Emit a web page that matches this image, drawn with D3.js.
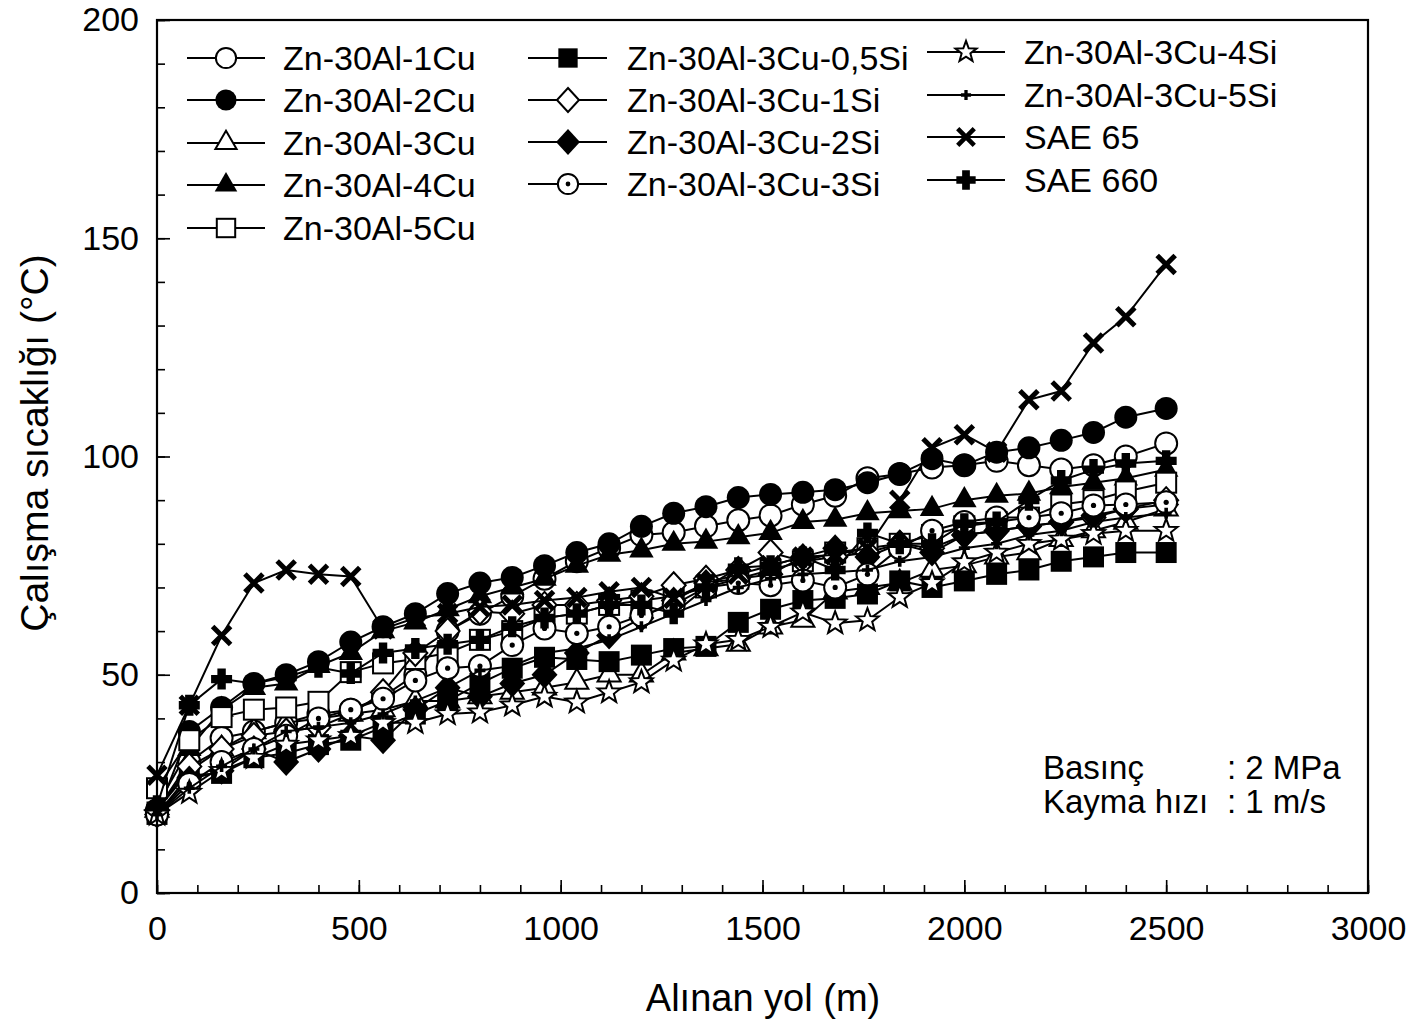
<!DOCTYPE html>
<html>
<head>
<meta charset="utf-8">
<script src="https://cdn.jsdelivr.net/npm/d3@7"></script>
<style>
  html, body { margin: 0; padding: 0; background: #fff; }
  svg { display: block; font-family: "Liberation Sans", Arial, sans-serif; }
</style>
</head>
<body>
<svg id="chart" width="1411" height="1024"></svg>
<script>
// ---------------- DATA ----------------
const distances = [0, 80, 160, 240, 320, 400, 480, 560, 640, 720, 800, 880, 960, 1040, 1120, 1200,
                   1280, 1360, 1440, 1520, 1600, 1680, 1760, 1840, 1920, 2000, 2080, 2160, 2240, 2320, 2400, 2500];

const seriesNames = ["Zn-30Al-1Cu", "Zn-30Al-2Cu", "Zn-30Al-3Cu", "Zn-30Al-4Cu", "Zn-30Al-5Cu",
                     "Zn-30Al-3Cu-0,5Si", "Zn-30Al-3Cu-1Si", "Zn-30Al-3Cu-2Si", "Zn-30Al-3Cu-3Si",
                     "Zn-30Al-3Cu-4Si", "Zn-30Al-3Cu-5Si", "SAE 65", "SAE 660"];

const zn1Cu  = [19,30,35.5,37,39,41,42,45,50,60,64,68,72,76,79,82,82.6,84,85.4,86.5,89,91,95,96,97.5,98,99,98,97,98,100,103];
const zn2Cu  = [18,37,42.5,48,50,53,57.5,61,64,68.6,71,72.3,75,78,80,84,87,88.5,90.6,91.3,91.8,92.4,94,96,99.5,98,101,102,103.7,105.5,109,111];
const zn3Cu  = [19,28,33,37,39,40,41,42,44,44,45,46,47,48.3,50,50,55,56,57,61,62.5,69,70,71,74,75,77,78,81,83,85,88];
const zn4Cu  = [20,33,42,47,48,52,55,60,62,65,68,70,72,75,77.5,78.5,80,80.5,81.5,82.5,85,85.5,87,87.5,88,90,91,91.5,93,94,95,97];
const zn5Cu  = [24,35,40.3,42,42.5,43.8,50.6,52.6,53.6,55,58,60,63,64,66,67,68,70,72,74,76,78,79,80,82,84,85,86,89,90,92,94];
const si05   = [18,27,27.4,31,32,34,35,38,41,44,48,51.5,54,53.5,53,54.5,56,56.5,62,65,67,67.5,68.5,71.5,70,71.5,73,74,76,77,78,78];
const si1    = [19,29,33,36,37,38,41,46,55,60,64.5,64,66,66,67,68,70.5,72,74,78,76,77,78,80,79,82,83,84,85,86,88,90];
const si2    = [18,26,28,33,30,33,36,35,42,47,45,48,50,55,59,63,67,71,72,73,77,79,77,80,78,82,83,84,85,86.5,88,89];
const si3    = [18,25,30,33,36,40,42,44.5,48.7,51.5,52,56.8,60.6,59.5,61,63.6,66,70,71,70.5,71.6,70,73,79,83,85,86,86,87,88.8,89,89.5];
const si4    = [18,23,28,31,34,35,36,39,39,41,41.4,43,45,43.7,46,48.3,53.3,57,58,61,64.3,61.8,62.5,67.8,71,75.8,78,80,81,82.3,83,83];
const si5    = [18,24,29,33,37,38,39,41,44,47,51,52,55,56,58,61,64,67,70,72,73,73.5,74,76,77,79,80,82,83,85,86,87];
const sae65  = [27,43,59,71,74,73,72.5,60.5,63,64,65.5,66,67,67.7,69,70,67.5,71,73,75,77,77.5,79,90,102,105,101,113,115,126,132,144];
const sae660 = [20,43,49,48,49.5,51.7,50.3,55,56,57,58,61,63,64,66,66,64,70,74.5,75,77,74,82.5,80,80,84.6,85,90,94.5,97,98.4,99];

const seriesValues = [zn1Cu, zn2Cu, zn3Cu, zn4Cu, zn5Cu, si05, si1, si2, si3, si4, si5, sae65, sae660];

const xMajorTicks = [0, 500, 1000, 1500, 2000, 2500, 3000];
const yMajorTicks = [0, 50, 100, 150, 200];
const xLabel = "Alınan yol (m)";
const yLabel = "Çalışma sıcaklığı (°C)";
const noteLines = [["Basınç", ": 2 MPa"], ["Kayma hızı", ": 1 m/s"]];

// ---------------- STYLE ----------------
const markerTypes = ["circleOpen", "circleFilled", "triOpen", "triFilled", "sqOpen", "sqFilled",
                     "diaOpen", "diaFilled", "circleDot", "starOpen", "plusSmall", "xMark", "crossFilled"];

const svg = d3.select("#chart");
const x = d3.scaleLinear().domain([0, 3000]).range([157, 1368]);
const y = d3.scaleLinear().domain([0, 200]).range([893, 20]);

function starPath(R, r) {
  const pts = [];
  for (let i = 0; i < 10; i++) {
    const a = -Math.PI / 2 + i * Math.PI / 5;
    const rad = i % 2 === 0 ? R : r;
    pts.push([rad * Math.cos(a), rad * Math.sin(a)]);
  }
  return "M" + pts.map(p => p[0].toFixed(2) + "," + p[1].toFixed(2)).join("L") + "Z";
}
function crossPath(h, w) {
  return `M${-w},${-h}H${w}V${-w}H${h}V${w}H${w}V${h}H${-w}V${w}H${-h}V${-w}H${-w}Z`;
}

function drawMarker(g, type, scale) {
  const s = scale || 1;
  const sw = 2;
  switch (type) {
    case "circleOpen":
      g.append("circle").attr("r", 11 * s).attr("fill", "#fff").attr("stroke", "#000").attr("stroke-width", sw); break;
    case "circleFilled":
      g.append("circle").attr("r", 11.5 * s).attr("fill", "#000"); break;
    case "circleDot":
      g.append("circle").attr("r", 11 * s).attr("fill", "#fff").attr("stroke", "#000").attr("stroke-width", sw);
      g.append("circle").attr("r", 2.6 * s).attr("fill", "#000"); break;
    case "triOpen":
      g.append("path").attr("d", d3.symbol(d3.symbolTriangle, 230 * s * s)()).attr("fill", "#fff").attr("stroke", "#000").attr("stroke-width", sw); break;
    case "triFilled":
      g.append("path").attr("d", d3.symbol(d3.symbolTriangle, 260 * s * s)()).attr("fill", "#000"); break;
    case "sqOpen":
      g.append("rect").attr("x", -10 * s).attr("y", -10 * s).attr("width", 20 * s).attr("height", 20 * s)
        .attr("fill", "#fff").attr("stroke", "#000").attr("stroke-width", sw); break;
    case "sqFilled":
      g.append("rect").attr("x", -10.5 * s).attr("y", -10.5 * s).attr("width", 21 * s).attr("height", 21 * s).attr("fill", "#000"); break;
    case "diaOpen":
      g.append("path").attr("d", `M0,${-13 * s}L${12 * s},0L0,${13 * s}L${-12 * s},0Z`).attr("fill", "#fff").attr("stroke", "#000").attr("stroke-width", sw); break;
    case "diaFilled":
      g.append("path").attr("d", `M0,${-14 * s}L${13 * s},0L0,${14 * s}L${-13 * s},0Z`).attr("fill", "#000"); break;
    case "starOpen":
      g.append("path").attr("d", starPath(12 * s, 5 * s)).attr("fill", "#fff").attr("stroke", "#000").attr("stroke-width", sw); break;
    case "plusSmall":
      g.append("path").attr("d", crossPath(5.5 * s, 1.8 * s)).attr("fill", "#000"); break;
    case "xMark":
      g.append("path").attr("d", `M${-9 * s},${-9 * s}L${9 * s},${9 * s}M${9 * s},${-9 * s}L${-9 * s},${9 * s}`)
        .attr("stroke", "#000").attr("stroke-width", 5 * s).attr("fill", "none"); break;
    case "crossFilled":
      g.append("path").attr("d", crossPath(10.5 * s, 4.2 * s)).attr("fill", "#000"); break;
  }
}

// ---------------- SERIES ----------------
const line = d3.line().x(d => x(d[0])).y(d => y(d[1]));
const plot = svg.append("g");
seriesValues.forEach((vals, i) => {
  const pts = distances.map((d, j) => [d, vals[j]]);
  const g = plot.append("g");
  g.append("path").attr("d", line(pts)).attr("fill", "none").attr("stroke", "#000").attr("stroke-width", 2);
  pts.forEach(p => {
    const m = g.append("g").attr("transform", `translate(${x(p[0])},${y(p[1])})`);
    drawMarker(m, markerTypes[i], 1);
  });
});

// ---------------- AXES ----------------
const axisFont = 34;
const xMinor = d3.axisBottom(x).tickValues(d3.range(0, 3001, 100)).tickSizeInner(-8).tickSizeOuter(0).tickFormat("");
const yMinor = d3.axisLeft(y).tickValues(d3.range(0, 201, 10)).tickSizeInner(-8).tickSizeOuter(0).tickFormat("");
svg.append("g").attr("transform", `translate(0,${y(0)})`).call(xMinor).call(g => g.select(".domain").remove())
  .selectAll("line").attr("stroke-width", 1.6);
svg.append("g").attr("transform", `translate(${x(0)},0)`).call(yMinor).call(g => g.select(".domain").remove())
  .selectAll("line").attr("stroke-width", 1.6);

const xAxis = d3.axisBottom(x).tickValues(xMajorTicks).tickSizeInner(-13).tickSizeOuter(0).tickPadding(23).tickFormat(d3.format("d"));
const yAxis = d3.axisLeft(y).tickValues(yMajorTicks).tickSizeInner(-13).tickSizeOuter(0).tickPadding(18).tickFormat(d3.format("d"));
const gx = svg.append("g").attr("transform", `translate(0,${y(0)})`).call(xAxis);
const gy = svg.append("g").attr("transform", `translate(${x(0)},0)`).call(yAxis);
[gx, gy].forEach(g => {
  g.select(".domain").remove();
  g.selectAll("line").attr("stroke-width", 1.6);
  g.selectAll("text").attr("font-size", axisFont).attr("font-family", "Liberation Sans, Arial, sans-serif").attr("fill", "#000");
});

// frame
svg.append("rect").attr("x", x(0)).attr("y", y(200)).attr("width", x(3000) - x(0)).attr("height", y(0) - y(200))
  .attr("fill", "none").attr("stroke", "#000").attr("stroke-width", 2.2);

// axis titles
svg.append("text").attr("x", 763).attr("y", 1011).attr("text-anchor", "middle")
  .attr("font-size", 38).text(xLabel);
svg.append("text").attr("transform", "translate(48,443) rotate(-90)").attr("text-anchor", "middle")
  .attr("font-size", 39).text(yLabel);

// ---------------- LEGEND ----------------
const legendCols = [
  { lx0: 187, lx1: 265, mx: 226, tx: 283, rows: [58, 100, 143, 185, 228], items: [0, 1, 2, 3, 4] },
  { lx0: 528, lx1: 607, mx: 568, tx: 627, rows: [58, 100, 142, 184], items: [5, 6, 7, 8] },
  { lx0: 927, lx1: 1005, mx: 966, tx: 1024, rows: [52, 95, 137, 180], items: [9, 10, 11, 12] }
];
const legend = svg.append("g");
legendCols.forEach(col => {
  col.items.forEach((si, k) => {
    const cy = col.rows[k];
    legend.append("line").attr("x1", col.lx0).attr("x2", col.lx1).attr("y1", cy).attr("y2", cy)
      .attr("stroke", "#000").attr("stroke-width", 2);
    const m = legend.append("g").attr("transform", `translate(${col.mx},${cy})`);
    drawMarker(m, markerTypes[si], 0.92);
    legend.append("text").attr("x", col.tx).attr("y", cy).attr("dy", "0.36em")
      .attr("font-size", 34).text(seriesNames[si]);
  });
});

// ---------------- NOTE ----------------
noteLines.forEach((ln, i) => {
  const by = 779 + i * 34;
  svg.append("text").attr("x", 1043).attr("y", by).attr("font-size", 33).text(ln[0]);
  svg.append("text").attr("x", 1227).attr("y", by).attr("font-size", 33).text(ln[1]);
});
</script>
</body>
</html>
